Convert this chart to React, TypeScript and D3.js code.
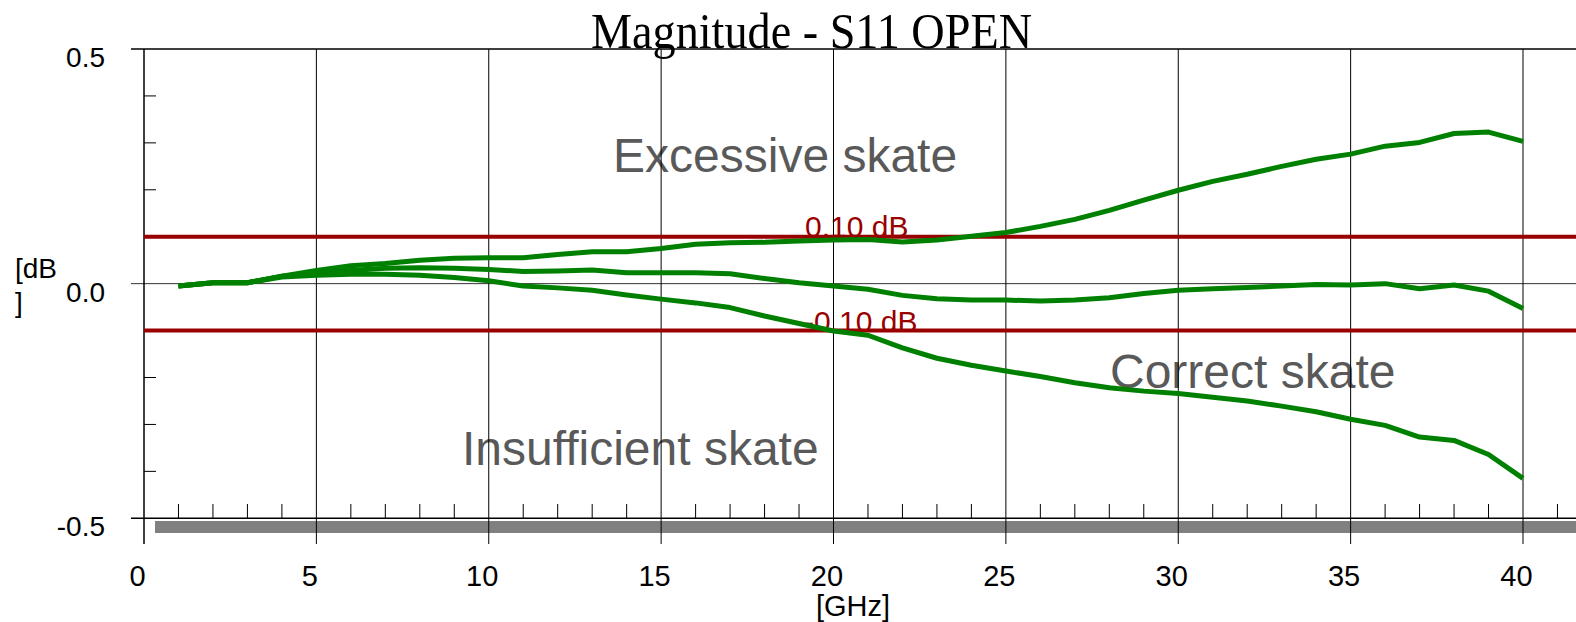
import * as d3 from "d3";

// frequency points, GHz
const freqs = d3.range(1, 41);

// |S11| deviation in dB
const excessive = [
  -0.005, 0.002, 0.002, 0.016, 0.028, 0.038, 0.043, 0.05, 0.054, 0.055,
  0.055, 0.062, 0.068, 0.068, 0.075, 0.084, 0.087, 0.088, 0.091, 0.093,
  0.094, 0.089, 0.093, 0.101, 0.109, 0.122, 0.137, 0.156, 0.178, 0.199,
  0.218, 0.233, 0.25, 0.265, 0.276, 0.293, 0.301, 0.32, 0.323, 0.303,
];
const correct = [
  -0.005, 0.002, 0.002, 0.016, 0.024, 0.028, 0.033, 0.034, 0.033, 0.03,
  0.026, 0.027, 0.029, 0.023, 0.023, 0.023, 0.021, 0.011, 0.002, -0.005,
  -0.012, -0.025, -0.032, -0.035, -0.035, -0.037, -0.035, -0.03, -0.021, -0.014,
  -0.011, -0.008, -0.005, -0.002, -0.003, 0.0, -0.011, -0.003, -0.016, -0.053,
];
const insufficient = [
  -0.005, 0.002, 0.002, 0.014, 0.018, 0.02, 0.02, 0.018, 0.013, 0.006,
  -0.005, -0.009, -0.014, -0.024, -0.033, -0.041, -0.051, -0.069, -0.085, -0.101,
  -0.11, -0.137, -0.159, -0.174, -0.186, -0.198, -0.211, -0.222, -0.229, -0.234,
  -0.242, -0.25, -0.261, -0.273, -0.289, -0.302, -0.327, -0.334, -0.364, -0.415,
];
const seriesList = [excessive, correct, insufficient];

const limits = [0.1, -0.1];
const limitLabels = ["0.10 dB", "-0.10 dB"];
const yTickLabels = ["0.5", "0.0", "-0.5"];
const yTickValues = [0.5, 0, -0.5];
const xMajor = [0, 5, 10, 15, 20, 25, 30, 35, 40];

const W = 1576;
const H = 622;
const sans = "'Liberation Sans', Arial, sans-serif";

export default function App() {
  const x = d3.scaleLinear().domain([0, 40]).range([144, 1523]);
  const y = d3.scaleLinear().domain([-0.5, 0.5]).range([518.3, 49]);
  const line = d3
    .line<number>()
    .x((_, i) => x(freqs[i]))
    .y((d) => y(d));

  const xMinor = d3.range(1, 42).filter((d) => d % 5 !== 0);
  const yMinor = [0.4, 0.3, 0.2, 0.1, -0.1, -0.2, -0.3, -0.4];
  const bottom = y(-0.5);
  const top = y(0.5);

  return (
    <div style={{ position: "absolute", left: 0, top: 0 }}>
      <svg width={W} height={H} style={{ display: "block", background: "#fff" }}>
        {/* title */}
        <text
          x={591}
          y={48}
          fontFamily="'Liberation Serif', 'Times New Roman', serif"
          fontSize={50}
          textLength={441}
          lengthAdjust="spacingAndGlyphs"
          fill="#000"
        >
          Magnitude - S11 OPEN
        </text>

        {/* region annotations */}
        <g fontFamily={sans} fontSize={48} fill="#595959">
          <text x={613} y={172}>Excessive skate</text>
          <text x={1110} y={388}>Correct skate</text>
          <text x={462} y={465}>Insufficient skate</text>
        </g>

        {/* gray band under the axis */}
        <rect x={155} y={521} width={W - 155} height={12} fill="#808080" />

        {/* limit labels */}
        <g fontFamily={sans} fontSize={30} fill="#990000">
          <text x={805} y={237}>{limitLabels[0]}</text>
          <text x={804} y={332}>{limitLabels[1]}</text>
        </g>

        {/* frame and grid */}
        <line x1={131} x2={W} y1={top} y2={top} stroke="#000" strokeWidth={1.5} />
        <line x1={131} x2={W} y1={bottom} y2={bottom} stroke="#000" strokeWidth={1.5} />
        <line x1={131} x2={W} y1={y(0)} y2={y(0)} stroke="#333" strokeWidth={1} />
        {xMajor.map((d) => (
          <line
            key={"gx" + d}
            x1={x(d)}
            x2={x(d)}
            y1={top}
            y2={544}
            stroke="#000"
            strokeWidth={d === 0 ? 1.5 : 1}
          />
        ))}
        {xMinor.map((d) => (
          <line key={"mx" + d} x1={x(d)} x2={x(d)} y1={504} y2={bottom} stroke="#000" strokeWidth={1} />
        ))}
        {yMinor.map((d) => (
          <line key={"my" + d} x1={144} x2={156} y1={y(d)} y2={y(d)} stroke="#000" strokeWidth={1} />
        ))}

        {/* limit lines */}
        {limits.map((d) => (
          <line key={"lim" + d} x1={144} x2={W} y1={y(d)} y2={y(d)} stroke="#990000" strokeWidth={4} />
        ))}

        {/* measured traces */}
        {seriesList.map((s, i) => (
          <path key={"s" + i} d={line(s) || ""} fill="none" stroke="#008000" strokeWidth={5} strokeLinejoin="round" />
        ))}

        {/* y tick labels */}
        <g fontFamily={sans} fontSize={28} fill="#000" textAnchor="end">
          {yTickValues.map((d, i) => (
            <text key={"yt" + d} x={105} y={y(d) + 18}>
              {yTickLabels[i]}
            </text>
          ))}
        </g>
        <g fontFamily={sans} fontSize={28} fill="#000">
          <text x={15} y={278}>[dB</text>
          <text x={15} y={312}>]</text>
        </g>

        {/* x tick labels */}
        <g fontFamily={sans} fontSize={29} fill="#000" textAnchor="middle">
          {xMajor.map((d) => (
            <text key={"xt" + d} x={x(d) - 6.5} y={586}>
              {d}
            </text>
          ))}
          <text x={853} y={616}>[GHz]</text>
        </g>
      </svg>
    </div>
  );
}
